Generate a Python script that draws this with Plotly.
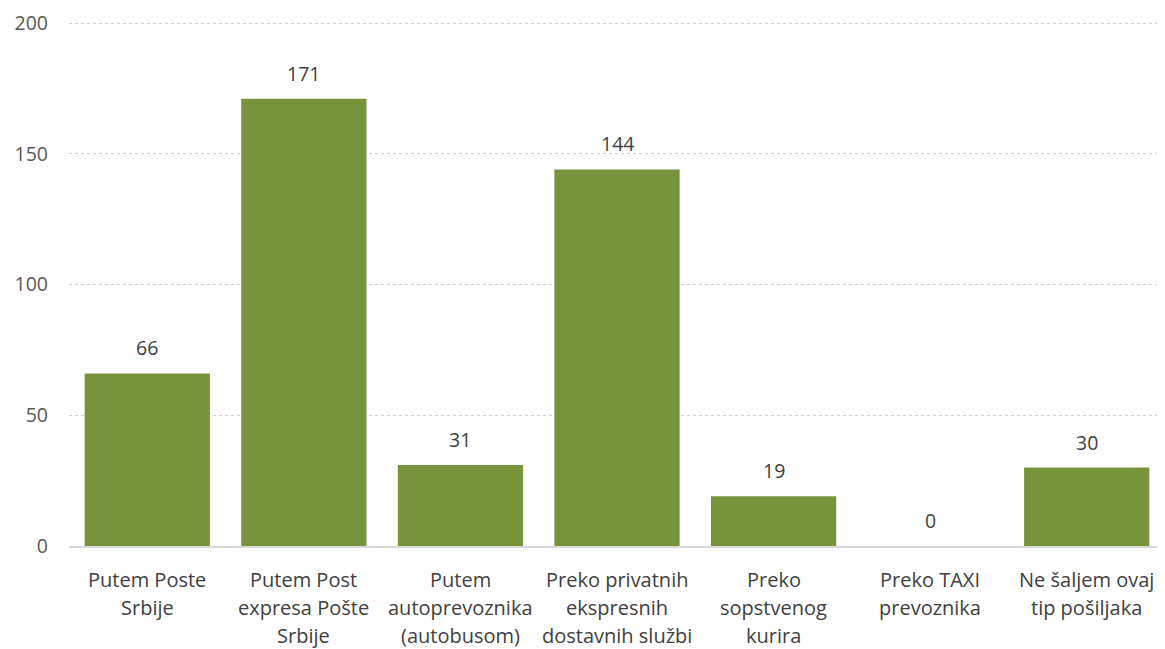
import plotly.graph_objects as go

categories = [
    "Putem Poste Srbije",
    "Putem Post expresa Pošte Srbije",
    "Putem autoprevoznika (autobusom)",
    "Preko privatnih ekspresnih dostavnih službi",
    "Preko sopstvenog kurira",
    "Preko TAXI prevoznika",
    "Ne šaljem ovaj tip pošiljaka",
]
label_lines = [
    ["Putem Poste", "Srbije"],
    ["Putem Post", "expresa Pošte", "Srbije"],
    ["Putem", "autoprevoznika", "(autobusom)"],
    ["Preko privatnih", "ekspresnih", "dostavnih službi"],
    ["Preko", "sopstvenog", "kurira"],
    ["Preko TAXI", "prevoznika"],
    ["Ne šaljem ovaj", "tip pošiljaka"],
]
values = [66, 171, 31, 144, 19, 0, 30]
y_ticks = [0, 50, 100, 150, 200]

FONT = "Open Sans"
fig = go.Figure()
fig.add_trace(go.Bar(
    x=categories, y=values,
    marker=dict(color="#77933C", line=dict(width=0)),
    hoverinfo="x+y",
))

annotations = []
for c, v in zip(categories, values):
    annotations.append(dict(
        x=c, y=v, xref="x", yref="y", text=str(v), showarrow=False,
        yanchor="bottom", yshift=10,
        font=dict(family=FONT, size=19.5, color="#404040"),
    ))
for c, lines in zip(categories, label_lines):
    for i, line in enumerate(lines):
        annotations.append(dict(
            x=c, y=0, xref="x", yref="paper", text=line, showarrow=False,
            yanchor="middle", yshift=-33 - 28 * i,
            font=dict(family=FONT, size=20, color="#404040"),
        ))

fig.update_layout(
    width=1157, height=641,
    margin=dict(l=61, r=0, t=14, b=103),
    paper_bgcolor="white", plot_bgcolor="white",
    bargap=0.2,
    showlegend=False,
    font=dict(family=FONT, size=19.5, color="#595959"),
    annotations=annotations,
    xaxis=dict(
        showticklabels=False, showgrid=False, zeroline=False,
        showline=True, linecolor="#D9D9D9", linewidth=1.5,
        ticks="",
    ),
    yaxis=dict(
        range=[0, 200.4], tickvals=y_ticks,
        showgrid=True, gridcolor="#D0D0D0", griddash="dot", gridwidth=1,
        zeroline=False, showline=False,
        ticks="", ticklabelstandoff=20,
        tickfont=dict(family=FONT, size=19.5, color="#595959"),
    ),
)

fig.write_html("out.html")
